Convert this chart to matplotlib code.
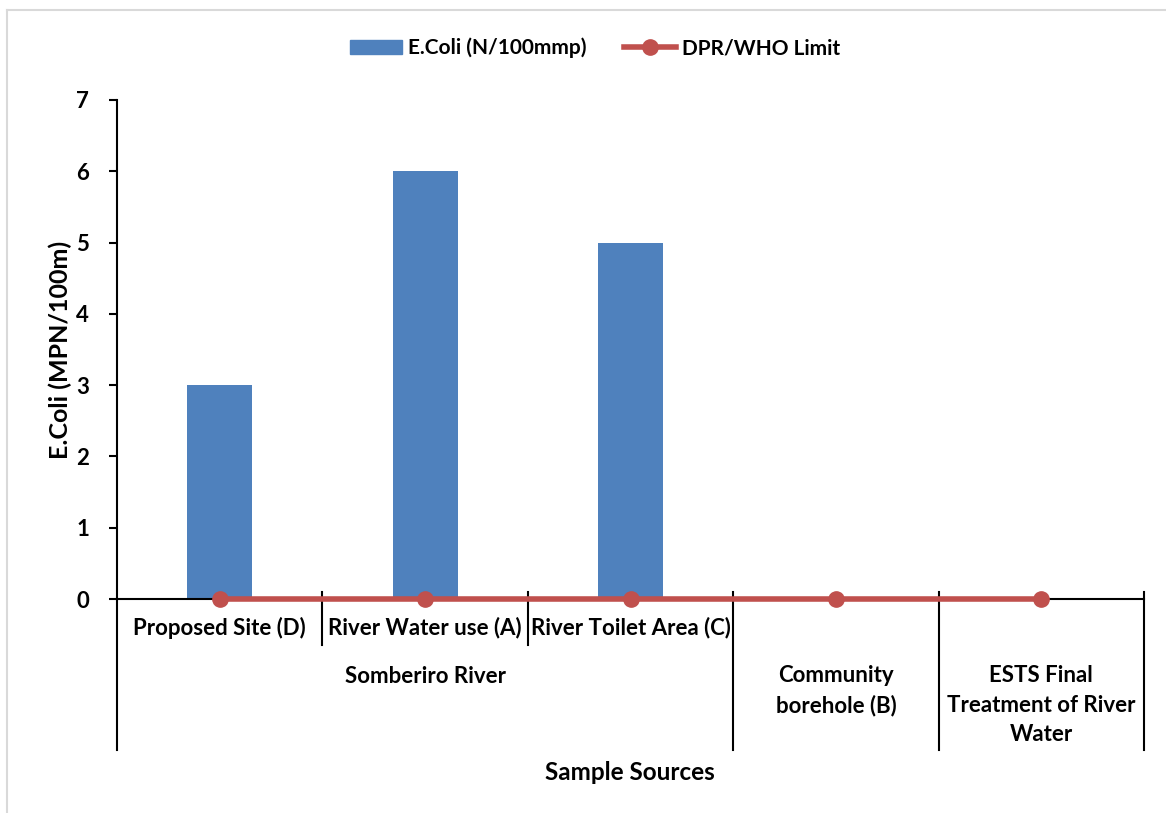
import matplotlib
matplotlib.use("Agg")
import matplotlib.pyplot as plt
from matplotlib.lines import Line2D
from matplotlib.patches import Patch
import matplotlib.transforms as mtransforms

plt.rcParams['font.family'] = ['Lato', 'DejaVu Sans']
plt.rcParams['font.weight'] = 'bold'
plt.rcParams['axes.labelweight'] = 'bold'

# Sample data
categories = ["Proposed Site (D)", "River Water use (A)", "River Toilet Area (C)",
              "Community\nborehole (B)", "ESTS Final\nTreatment of River\nWater"]
groups = ["Somberiro River", "Somberiro River", "Somberiro River", None, None]
ecoli = [3, 6, 5, 0, 0]
who_limit = [0, 0, 0, 0, 0]
y_ticks = [0, 1, 2, 3, 4, 5, 6, 7]

bar_color = "#4F81BD"
line_color = "#C0504D"
fs = 16

W, H = 1166, 813
fig = plt.figure(figsize=(W / 100, H / 100), dpi=100)
# chart-area outline (top and left edges)
fig.add_artist(Line2D([7 / W, 7 / W], [0, 1 - 10 / H], transform=fig.transFigure,
                      color="#D9D9D9", lw=1.5))
fig.add_artist(Line2D([7 / W, 1], [1 - 10 / H, 1 - 10 / H], transform=fig.transFigure,
                      color="#D9D9D9", lw=1.5))

left, right, top, bottom = 117, 1144, 100, 599
ax = fig.add_axes([left / W, (H - bottom) / H, (right - left) / W, (bottom - top) / H])

x = [i + 0.5 for i in range(len(categories))]
ax.bar(x, ecoli, width=0.316, color=bar_color, zorder=2)
ax.plot(x, who_limit, color=line_color, linewidth=4, marker='o', markersize=11,
        zorder=4, clip_on=False)

ax.set_xlim(0, len(categories))
ax.set_ylim(0, 7)
ax.set_yticks(y_ticks)
ax.tick_params(axis='y', direction='out', length=6, width=1.5, labelsize=fs, pad=14)
ax.set_xticks([])
for s in ['top', 'right']:
    ax.spines[s].set_visible(False)
ax.spines['left'].set_linewidth(1.5)
ax.spines['bottom'].set_linewidth(1.5)
ax.spines['bottom'].set_zorder(3)

# multi-level category axis
trans = mtransforms.blended_transform_factory(ax.transData, ax.transAxes)
ph = bottom - top
short_lo = -(645 - bottom) / ph
long_lo = -(750 - bottom) / ph
tick_hi = 7 / ph
ax.plot([0, 0], [0, long_lo], transform=trans, color='black', lw=1.5, clip_on=False)
for i in range(1, len(categories) + 1):
    nxt = groups[i] if i < len(groups) else None
    same_group = groups[i - 1] is not None and nxt == groups[i - 1]
    lo = short_lo if same_group else long_lo
    ax.plot([i, i], [tick_hi, lo], transform=trans, color='black', lw=1.5, clip_on=False)

y_cat = -(628 - bottom) / ph
y_grp = -(676 - bottom) / ph
y_single = -(665 - bottom) / ph
for xi, cat, g in zip(x, categories, groups):
    if g is not None:
        ax.text(xi, y_cat, cat, transform=trans, ha='center', va='center', fontsize=fs)
    else:
        ax.text(xi, y_single, cat, transform=trans, ha='center', va='top',
                fontsize=fs, linespacing=1.5)

# group labels
seen = []
for g in groups:
    if g is not None and g not in seen:
        seen.append(g)
for g in seen:
    idx = [i for i, gg in enumerate(groups) if gg == g]
    cx = (idx[0] + idx[-1] + 1) / 2
    ax.text(cx, y_grp, g, transform=trans, ha='center', va='center', fontsize=fs)

ax.set_ylabel("E.Coli (MPN/100m)", fontsize=18, labelpad=3)
fig.text(630 / W, 1 - 772 / H, "Sample Sources", ha='center', va='center', fontsize=17.5)

handles = [Patch(color=bar_color, label="E.Coli (N/100mmp)"),
           Line2D([], [], color=line_color, lw=4, marker='o', markersize=11,
                  label="DPR/WHO Limit")]
fig.legend(handles=handles, loc='center', bbox_to_anchor=(595 / W, 1 - 48 / H),
           ncol=2, frameon=False, fontsize=15, handlelength=2.5,
           handleheight=0.65, handletextpad=0.3, columnspacing=1.8)

fig.savefig("out.png", dpi=100)
